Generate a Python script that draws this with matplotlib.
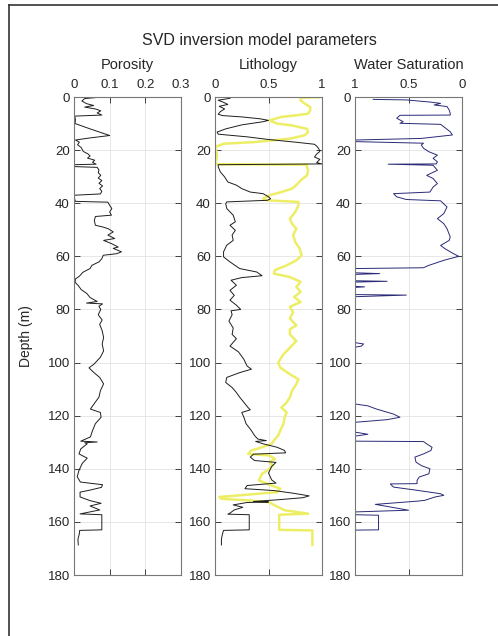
"""
SVD inversion model parameters - three log tracks (porosity, lithology,
water saturation) against depth. Values read off the reference figure.
"""

import matplotlib.pyplot as plt
from matplotlib.lines import Line2D

plt.rcParams['font.family'] = ['Liberation Sans', 'DejaVu Sans']

# ----------------------------------------------------------------------------
# Porosity track
# ----------------------------------------------------------------------------
POR_DEPTH = [0.0, 0.6, 1.5, 2.5, 3.2, 3.8, 4.5, 5.2, 6.0, 6.8, 7.2, 8.5,
             10.0, 12.0, 14.5, 15.5, 16.2, 17.0, 18.0, 19.0, 20.5, 21.5,
             22.2, 23.0, 23.8, 24.6, 25.3, 25.5, 26.2, 26.5, 27.5, 28.5,
             29.5, 30.5, 31.5, 32.5, 33.5, 34.5, 35.5, 36.5, 37.0, 38.5,
             39.3, 39.6, 40.8, 42.0, 43.3, 44.5, 45.0, 46.5, 48.3, 49.0,
             49.6, 50.8, 52.0, 53.3, 54.0, 55.2, 56.5, 57.0, 58.3, 59.0,
             59.6, 60.9, 62.1, 63.4, 64.6, 66.0, 67.5, 68.5, 69.8, 71.0,
             72.5, 74.0, 75.5, 77.0, 77.6, 77.9, 78.8, 80.0, 82.0, 84.0,
             85.6, 88.0, 90.6, 93.0, 95.6, 98.0, 100.6, 102.0, 103.8, 105.6,
             108.0, 110.6, 113.0, 115.6, 117.5, 118.8, 120.6, 123.0, 125.6,
             128.0, 129.6, 129.9, 130.2, 130.6, 132.5, 134.4, 136.0, 138.0,
             140.6, 143.0, 145.0, 146.0, 147.0, 148.0, 148.8, 150.6, 152.0,
             153.0, 154.0, 155.5, 156.5, 157.0, 157.3, 163.0, 163.2, 164.5,
             166.5, 168.7]
POR_VALUE = [0.078, 0.03, 0.022, 0.035, 0.055, 0.03, 0.06, 0.075, 0.065,
             0.078, 0.002, 0.004, 0.003, 0.045, 0.1, 0.04, 0.004, 0.015,
             0.01, 0.02, 0.026, 0.04, 0.045, 0.038, 0.058, 0.052, 0.062,
             0.0, 0.0, 0.065, 0.07, 0.068, 0.075, 0.068, 0.078, 0.07, 0.08,
             0.072, 0.078, 0.074, 0.0, 0.002, 0.004, 0.095, 0.1, 0.106, 0.1,
             0.105, 0.06, 0.057, 0.06, 0.082, 0.096, 0.11, 0.095, 0.114,
             0.083, 0.105, 0.124, 0.11, 0.133, 0.12, 0.082, 0.078, 0.07,
             0.05, 0.045, 0.025, 0.015, 0.004, 0.003, 0.012, 0.02, 0.036,
             0.045, 0.065, 0.035, 0.08, 0.07, 0.075, 0.068, 0.079, 0.072,
             0.079, 0.083, 0.079, 0.083, 0.074, 0.056, 0.042, 0.056, 0.072,
             0.083, 0.074, 0.07, 0.056, 0.046, 0.074, 0.076, 0.06, 0.052,
             0.046, 0.019, 0.065, 0.03, 0.037, 0.019, 0.014, 0.037, 0.023,
             0.014, 0.009, 0.018, 0.08, 0.077, 0.046, 0.017, 0.017, 0.045,
             0.076, 0.045, 0.072, 0.035, 0.017, 0.078, 0.078, 0.016, 0.015,
             0.011, 0.012]

# ----------------------------------------------------------------------------
# Lithology track: black curve and yellow curve
# ----------------------------------------------------------------------------
LITH_K_DEPTH = [0.5, 1.2, 2.0, 2.8, 3.5, 4.5, 5.5, 6.5, 7.0, 7.5, 8.2, 8.8,
                9.3, 10.5, 12.0, 13.2, 14.0, 15.0, 16.0, 17.0, 17.8, 18.5,
                19.5, 20.5, 21.5, 22.6, 23.5, 24.7, 25.2, 25.5, 26.3, 28.2,
                30.1, 32.0, 33.2, 34.5, 35.8, 36.4, 37.6, 38.3, 38.9, 39.5,
                40.2, 42.0, 44.5, 47.0, 48.3, 50.2, 52.0, 54.0, 55.8, 58.3,
                60.2, 62.1, 64.6, 65.9, 67.3, 68.0, 69.0, 70.9, 72.8, 74.7,
                76.5, 78.4, 80.0, 80.5, 82.0, 84.4, 87.0, 89.4, 91.0, 93.8,
                96.0, 98.8, 101.3, 102.5, 103.8, 105.6, 107.5, 109.4, 111.3,
                113.0, 115.0, 117.0, 117.8, 118.8, 120.6, 123.0, 125.6,
                127.5, 128.8, 129.4, 129.7, 130.6, 131.9, 133.1, 134.0,
                134.5, 135.6, 136.9, 137.6, 139.1, 141.6, 144.2, 145.4,
                146.3, 147.5, 148.2, 149.2, 150.2, 150.9, 151.7, 152.3,
                152.5, 152.7, 153.6, 154.5, 155.5, 156.7, 157.1, 157.3,
                163.0, 163.2, 164.5, 166.5, 168.7]
LITH_K_VALUE = [0.14, 0.03, 0.08, 0.12, 0.04, 0.09, 0.05, 0.03, 0.07, 0.25,
                0.42, 0.5, 0.45, 0.25, 0.1, 0.02, 0.03, 0.3, 0.5, 0.75, 0.93,
                0.95, 0.97, 0.98, 0.95, 0.93, 0.98, 0.95, 1.0, 0.03, 0.03,
                0.05, 0.09, 0.12, 0.2, 0.25, 0.33, 0.45, 0.5, 0.52, 0.49,
                0.11, 0.1, 0.11, 0.17, 0.19, 0.14, 0.19, 0.16, 0.17, 0.11,
                0.08, 0.08, 0.14, 0.23, 0.39, 0.44, 0.25, 0.15, 0.2, 0.14,
                0.18, 0.14, 0.2, 0.24, 0.15, 0.16, 0.13, 0.17, 0.16, 0.2,
                0.14, 0.22, 0.27, 0.3, 0.34, 0.23, 0.11, 0.1, 0.16, 0.2,
                0.23, 0.27, 0.31, 0.33, 0.25, 0.27, 0.29, 0.34, 0.37, 0.4,
                0.48, 0.38, 0.45, 0.58, 0.65, 0.66, 0.36, 0.33, 0.37, 0.57,
                0.53, 0.5, 0.53, 0.57, 0.3, 0.28, 0.55, 0.73, 0.88, 0.82,
                0.58, 0.36, 0.5, 0.3, 0.17, 0.26, 0.18, 0.14, 0.12, 0.32,
                0.32, 0.08, 0.07, 0.06, 0.06]

LITH_Y_DEPTH = [0.0, 0.3, 1.3, 2.5, 3.8, 5.0, 6.3, 6.9, 7.5, 8.8, 10.0,
                10.7, 12.0, 13.2, 14.4, 15.7, 17.0, 17.6, 18.8, 20.0, 22.0,
                24.0, 25.3, 25.5, 26.3, 27.6, 29.5, 31.4, 33.2, 34.5, 35.8,
                37.0, 38.3, 38.9, 39.5, 40.8, 43.3, 45.8, 47.7, 49.6, 52.0,
                54.6, 57.0, 59.6, 61.5, 63.4, 65.2, 66.5, 67.8, 69.6, 71.5,
                73.4, 75.3, 77.2, 79.0, 81.0, 83.4, 86.0, 87.5, 89.4, 91.9,
                94.4, 96.9, 100.0, 101.9, 104.4, 106.3, 108.1, 110.6, 113.1,
                115.0, 116.9, 118.8, 120.6, 123.1, 125.6, 127.5, 129.4,
                130.6, 131.9, 133.1, 134.4, 135.0, 136.3, 137.5, 138.8,
                140.0, 141.9, 144.4, 146.3, 147.5, 148.8, 150.0, 150.6,
                151.3, 151.9, 152.5, 153.8, 155.6, 156.9, 157.3, 163.0,
                163.2, 168.7]
LITH_Y_VALUE = [1.0, 0.8, 0.8, 0.84, 0.89, 0.89, 0.87, 0.76, 0.62, 0.51,
                0.58, 0.72, 0.86, 0.87, 0.84, 0.7, 0.36, 0.08, 0.0, 0.01,
                0.02, 0.01, 0.0, 0.86, 0.86, 0.87, 0.86, 0.8, 0.76, 0.72,
                0.62, 0.51, 0.45, 0.48, 0.78, 0.78, 0.75, 0.7, 0.72, 0.76,
                0.73, 0.75, 0.79, 0.81, 0.76, 0.67, 0.56, 0.55, 0.7, 0.8,
                0.76, 0.8, 0.74, 0.8, 0.7, 0.73, 0.7, 0.76, 0.7, 0.7, 0.76,
                0.7, 0.64, 0.59, 0.61, 0.7, 0.78, 0.76, 0.72, 0.7, 0.67,
                0.62, 0.67, 0.65, 0.64, 0.61, 0.59, 0.55, 0.53, 0.44, 0.34,
                0.31, 0.51, 0.56, 0.51, 0.54, 0.51, 0.44, 0.41, 0.53, 0.61,
                0.58, 0.23, 0.04, 0.06, 0.31, 0.5, 0.56, 0.65, 0.87, 0.6,
                0.6, 0.91, 0.91]

# ----------------------------------------------------------------------------
# Water saturation track (axis reversed: 1 on the left, 0 on the right)
# ----------------------------------------------------------------------------
SW_DEPTH = [0.9, 1.1, 1.9, 2.4, 3.0, 3.6, 4.9, 6.1, 6.8, 6.9, 8.0, 9.3, 9.9,
            10.3, 11.2, 13.1, 14.3, 15.6, 16.2, 16.8, 17.4, 18.1, 19.3, 20.6,
            21.9, 23.1, 24.4, 25.2, 25.3, 25.7, 27.6, 29.5, 30.7, 32.6, 33.9,
            35.8, 36.4, 37.6, 38.6, 39.1, 41.4, 43.9, 45.8, 47.7, 49.6, 52.7,
            54.0, 55.9, 57.1, 59.0, 60.0, 61.5, 63.4, 64.3, 64.6, 66.2, 66.5,
            66.8, 69.2, 69.4, 69.7, 71.3, 71.5, 71.7, 74.4, 74.6, 75.2, 92.5,
            93.0, 93.8, 94.2, 115.6, 116.3, 117.5, 119.4, 120.6, 121.5, 122.5,
            126.2, 127.0, 127.7, 129.6, 129.75, 130.6, 131.9, 133.1, 134.4,
            135.6, 137.5, 138.8, 140.0, 141.9, 143.1, 144.4, 145.6, 145.7,
            146.9, 148.1, 149.4, 150.0, 150.6, 151.9, 152.2, 153.4, 155.6,
            156.25, 157.3, 157.5, 163.0, 163.1, 168.7]
SW_VALUE = [0.83, 0.52, 0.3, 0.2, 0.26, 0.14, 0.12, 0.11, 0.11, 0.58, 0.61,
            0.55, 0.58, 0.2, 0.17, 0.11, 0.09, 0.38, 1.0, 1.0, 0.36, 0.38,
            0.36, 0.31, 0.23, 0.27, 0.23, 0.24, 0.69, 0.27, 0.23, 0.33, 0.27,
            0.23, 0.27, 0.3, 0.64, 0.61, 0.52, 0.2, 0.14, 0.17, 0.23, 0.17,
            0.14, 0.11, 0.12, 0.2, 0.16, 0.08, 0.03, 0.17, 0.31, 0.36, 1.0,
            1.0, 0.77, 1.0, 1.0, 0.7, 1.0, 1.0, 0.91, 1.0, 1.0, 0.52, 1.0,
            1.0, 0.92, 0.94, 1.0, 1.0, 0.88, 0.8, 0.64, 0.58, 0.7, 1.0, 1.0,
            0.88, 1.0, 1.0, 0.36, 0.33, 0.28, 0.29, 0.36, 0.44, 0.43, 0.38,
            0.3, 0.31, 0.4, 0.42, 0.42, 0.67, 0.64, 0.42, 0.2, 0.17, 0.25,
            0.35, 0.42, 0.81, 0.5, 1.0, 1.0, 0.78, 0.78, 1.0, 1.0]

DEPTH_TICKS = [0, 20, 40, 60, 80, 100, 120, 140, 160, 180]

TRACKS = [
    # title, xlim, xticks, xticklabels
    ("Porosity", (0, 0.3), [0, 0.1, 0.2, 0.3], ["0", "0.1", "0.2", "0.3"]),
    ("Lithology", (0, 1), [0, 0.5, 1], ["0", "0.5", "1"]),
    ("Water Saturation", (1, 0), [1, 0.5, 0], ["1", "0.5", "0"]),
]

W, H = 498, 636
AX_LEFT_PX = [74, 215, 355]
AX_W_PX = 107
AX_TOP_PX, AX_BOT_PX = 97, 575

TEXT_COLOR = "#262626"


def style_track(ax, title, xlim, xticks, xlabels):
    ax.set_xlim(*xlim)
    ax.set_ylim(180, 0)
    ax.set_xticks(xticks)
    ax.set_xticklabels(xlabels)
    ax.set_yticks(DEPTH_TICKS)
    ax.xaxis.tick_top()
    ax.tick_params(axis="both", direction="in", length=4, width=0.6,
                   colors=TEXT_COLOR, labelsize=9.5,
                   top=True, bottom=True, left=True, right=True)
    ax.tick_params(axis="x", pad=4, labeltop=True, labelbottom=False)
    ax.tick_params(axis="y", pad=3)
    ax.grid(True, color="#e3e3e3", linewidth=0.6)
    ax.set_axisbelow(True)
    for sp in ax.spines.values():
        sp.set_color("#777777")
        sp.set_linewidth(0.8)
    ax.text(0.5, 1.067, title, transform=ax.transAxes, ha="center",
            va="center", fontsize=10.5, color=TEXT_COLOR)


def main():
    fig = plt.figure(figsize=(W / 100, H / 100), dpi=100)

    axes = []
    for left_px, (title, xlim, xticks, xlabels) in zip(AX_LEFT_PX, TRACKS):
        ax = fig.add_axes([left_px / W, 1 - AX_BOT_PX / H,
                           AX_W_PX / W, (AX_BOT_PX - AX_TOP_PX) / H])
        style_track(ax, title, xlim, xticks, xlabels)
        axes.append(ax)

    ax_por, ax_lith, ax_sw = axes
    ax_por.plot(POR_VALUE, POR_DEPTH, color="#1e1e1e", linewidth=0.7)
    ax_lith.plot(LITH_Y_VALUE, LITH_Y_DEPTH, color="#eeee66", linewidth=1.8)
    ax_lith.plot(LITH_K_VALUE, LITH_K_DEPTH, color="#1e1e1e", linewidth=0.7)
    ax_sw.plot(SW_VALUE, SW_DEPTH, color="#2a2a78", linewidth=0.7)

    ax_por.set_ylabel("Depth (m)", fontsize=10, color=TEXT_COLOR)
    ax_por.yaxis.set_label_coords(-0.385, 0.5)

    fig.text(259 / W, 1 - 40 / H, "SVD inversion model parameters",
             ha="center", va="center", fontsize=11.5, color=TEXT_COLOR)

    # frame of the original export (only top and left edges are visible)
    fig.add_artist(Line2D([9 / W, 9 / W], [0, 1 - 5 / H],
                          transform=fig.transFigure, color="#333333",
                          linewidth=1.2))
    fig.add_artist(Line2D([9 / W, 1], [1 - 5 / H, 1 - 5 / H],
                          transform=fig.transFigure, color="#333333",
                          linewidth=1.2))

    fig.savefig("out.png", dpi=100)
    plt.close(fig)


if __name__ == "__main__":
    main()
